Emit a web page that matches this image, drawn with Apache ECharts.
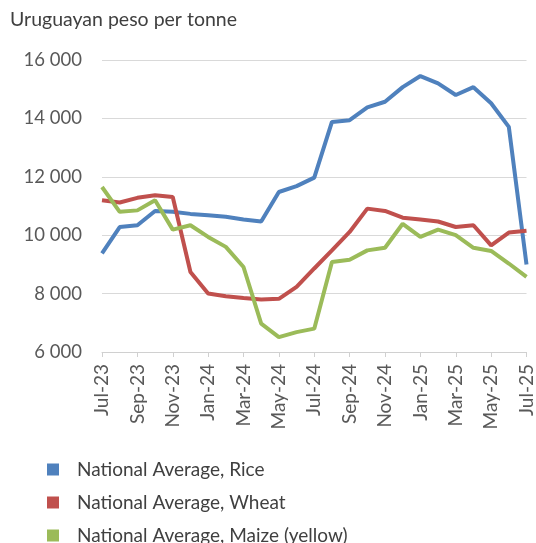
<!DOCTYPE html>
<html><head><meta charset="utf-8">
<script src="https://cdn.jsdelivr.net/npm/echarts@6/dist/echarts.min.js"></script>
<style>html,body{margin:0;padding:0;background:#fff}#c{width:536px;height:543px}</style>
</head><body><div id="c"></div>
<script>
const months = ['Jul-23','Aug-23','Sep-23','Oct-23','Nov-23','Dec-23','Jan-24','Feb-24','Mar-24','Apr-24','May-24','Jun-24','Jul-24','Aug-24','Sep-24','Oct-24','Nov-24','Dec-24','Jan-25','Feb-25','Mar-25','Apr-25','May-25','Jun-25','Jul-25'];
const rice  = [9380,10280,10340,10830,10800,10730,10680,10630,10540,10470,11480,11680,11970,13880,13940,14380,14570,15070,15450,15200,14800,15070,14520,13710,9000];
const wheat = [11200,11120,11280,11370,11310,8740,8000,7910,7850,7800,7820,8230,8860,9480,10110,10910,10830,10600,10540,10470,10280,10340,9650,10090,10150];
const maize = [11650,10800,10850,11200,10190,10340,9940,9600,8910,6970,6510,6680,6800,9080,9160,9480,9570,10390,9940,10190,10000,9570,9460,9030,8570];
const seriesNames = ['National Average, Rice','National Average, Wheat','National Average, Maize (yellow)'];
const colors = ['#4F81BD','#C0504D','#9BBB59'];
const yTitle = 'Uruguayan peso per tonne';
const font = 'Lato, "Open Sans", sans-serif';

const chart = echarts.init(document.getElementById('c'));
const mk = (name, data, i) => ({
  name, type:'line', data, symbol:'none', color: colors[i],
  lineStyle:{width:4, color: colors[i]}
});
const legendTops = [455, 488, 521];
chart.setOption({
  animation:false,
  textStyle:{fontFamily:font},
  graphic:[{type:'text', left:10, top:10, style:{text:yTitle, font:'19.5px '+font, fill:'#404040'}}],
  grid:{left:102, right:9, top:60, bottom:191},
  legend: seriesNames.map((n,i)=>({orient:'vertical', left:42, top:legendTops[i], itemWidth:12, itemHeight:12,
    icon:'rect', textStyle:{fontSize:19, color:'#404040', fontFamily:font, padding:[0,0,0,13]},
    data:[n]})),
  xAxis:{type:'category', data:months, boundaryGap:false,
    axisLine:{lineStyle:{color:'#d0d0d0'}},
    axisTick:{interval:1, length:5, lineStyle:{color:'#d0d0d0'}},
    axisLabel:{interval:1, rotate:90, fontSize:19, color:'#595959', margin:12, fontFamily:font}},
  yAxis:{type:'value', min:6000, max:16000, interval:2000,
    axisLabel:{fontSize:18.5, color:'#595959', margin:20, fontFamily:font,
      formatter:v=>v.toString().replace(/\B(?=(\d{3})+(?!\d))/g,' ')},
    splitLine:{lineStyle:{color:'#d9d9d9', width:1}},
    axisLine:{show:false}, axisTick:{show:false}},
  series:[mk(seriesNames[0],rice,0), mk(seriesNames[1],wheat,1), mk(seriesNames[2],maize,2)]
});
</script></body></html>
